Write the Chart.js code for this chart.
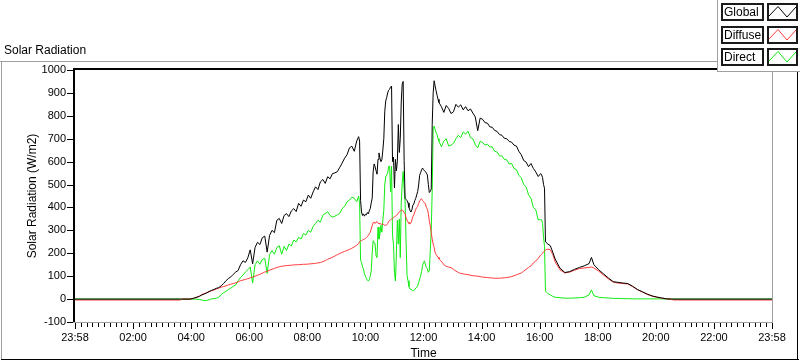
<!DOCTYPE html>
<html>
<head>
<meta charset="utf-8">
<script src="https://cdn.jsdelivr.net/npm/chart.js@4"></script>
<style>
  html, body { margin: 0; padding: 0; background: #fff; }
  #wrap { position: relative; width: 800px; height: 361px; }
</style>
</head>
<body>
<div id="wrap"><canvas id="solarChart"></canvas></div>
<script>
// sample times (clock), first entry is 23:58 of the previous day
const times = [
  '23:58', '03:36', '03:38', '03:56',
  '04:00', '04:05', '04:10', '04:15', '04:20', '04:25', '04:30', '04:35', '04:40', '04:45', '04:50', '04:55',
  '05:00', '05:05', '05:10', '05:15', '05:20', '05:25', '05:30', '05:35', '05:40', '05:45', '05:50', '05:55',
  '06:00', '06:05', '06:10', '06:15', '06:20', '06:25', '06:30', '06:35', '06:40', '06:45', '06:50', '06:55',
  '07:00', '07:05', '07:10', '07:15', '07:20', '07:25', '07:30', '07:35', '07:40', '07:45', '07:50', '07:55',
  '08:00', '08:05', '08:10', '08:15', '08:20', '08:25', '08:30', '08:35', '08:40', '08:45', '08:50', '08:55',
  '09:00', '09:05', '09:10', '09:15', '09:20', '09:25', '09:30', '09:35', '09:40', '09:44',
  '09:46', '09:48', '09:50', '09:52', '09:54', '09:56', '09:58',
  '10:00', '10:02', '10:04', '10:06', '10:08', '10:10', '10:12', '10:14', '10:16', '10:18',
  '10:20', '10:22', '10:24', '10:26', '10:28', '10:30', '10:32', '10:34', '10:36', '10:38',
  '10:40', '10:42', '10:44', '10:46', '10:48', '10:50', '10:52', '10:54', '10:56', '10:58',
  '11:00', '11:02', '11:04', '11:06', '11:08', '11:10', '11:12', '11:14', '11:16', '11:18',
  '11:20', '11:22', '11:24', '11:26', '11:28', '11:30', '11:32', '11:34', '11:36', '11:38',
  '11:40', '11:42', '11:44', '11:46', '11:48', '11:50', '11:52', '11:54', '11:56', '11:58',
  '12:00', '12:02', '12:04', '12:06', '12:08', '12:10', '12:12', '12:14', '12:16', '12:18',
  '12:20', '12:22', '12:24', '12:26', '12:28', '12:30',
  '12:35', '12:40', '12:45', '12:50', '12:55',
  '13:00', '13:05', '13:10', '13:15', '13:20', '13:25', '13:30', '13:35', '13:40', '13:45', '13:50', '13:55',
  '14:00', '14:05', '14:10', '14:15', '14:20', '14:25', '14:30', '14:35', '14:40', '14:45', '14:50', '14:55',
  '15:00', '15:05', '15:10', '15:15', '15:20', '15:25', '15:30', '15:35', '15:40', '15:45', '15:50', '15:55',
  '16:00', '16:02', '16:04', '16:06', '16:08', '16:10', '16:15', '16:20', '16:25', '16:30', '16:40', '16:50',
  '17:00', '17:10', '17:20', '17:30', '17:40', '17:45', '17:50',
  '18:00', '18:10', '18:20', '18:30', '18:40', '18:50',
  '19:00', '19:10', '19:20', '19:30', '19:40', '19:50',
  '20:00', '20:10', '20:20', '20:30', '20:34', '23:58'
];

// W/m2
const globalRad = [
  0, 0, 0, 0,
  2, 5, 8, 12, 18, 22, 27, 33, 38, 42, 47, 50,
  58, 68, 80, 90, 97, 108, 118, 125, 150, 167, 160, 180,
  215, 154, 225, 248, 238, 268, 275, 205, 278, 300, 290, 344,
  352, 330, 365, 373, 360, 385, 395, 382, 418, 405, 432, 425,
  454, 440, 468, 490, 478, 512, 522, 505, 534, 525, 548, 551,
  556, 575, 594, 615, 630, 660, 667, 645, 690, 709,
  690, 430, 380, 365, 372, 362, 370,
  368, 378, 372, 385, 395, 420, 440, 556, 590, 578,
  560, 545, 610, 638, 615, 600, 608, 650, 700, 820,
  865, 880, 900, 912, 916, 925, 930, 600, 620, 485,
  610, 560, 602, 762, 640, 700, 860, 938, 950, 605,
  440, 435, 430, 420, 400, 388, 380, 390, 410, 415,
  430, 440, 455, 470, 498, 540, 552, 564, 572, 565,
  560, 557, 550, 542, 500, 465, 470, 480, 762, 900,
  953, 930, 909, 890, 872, 858,
  840, 815, 845, 832, 810,
  818, 850, 838, 848, 826, 840, 822, 830, 812, 795, 735, 790,
  785, 770, 768, 752, 750, 736, 732, 718, 715, 702, 700, 688,
  685, 672, 668, 645, 630, 605, 598, 578, 592, 570, 555, 535,
  548, 542, 530, 500, 484, 250, 240, 233, 205, 175, 135, 116,
  120, 130, 138, 145, 155, 182, 150,
  128, 110, 92, 76, 73, 70,
  68, 56, 42, 32, 22, 14,
  9, 5, 1, 0, 0, 0
];

const diffuseRad = [
  -4, -4, 0, 0,
  2, 5, 9, 13, 20, 24, 28, 32, 36, 40, 44, 48,
  52, 55, 58, 62, 65, 68, 71, 75, 80, 83, 86, 89,
  93, 96, 100, 104, 108, 113, 118, 122, 126, 130, 134, 138,
  141, 143, 145, 146, 147, 148, 149, 150, 150, 151, 152, 152,
  153, 154, 155, 156, 158, 160, 163, 168, 174, 178, 183, 188,
  194, 199, 204, 208, 212, 217, 222, 228, 235, 242,
  250, 255, 255, 258, 260, 262, 265,
  268, 272, 278, 285, 292, 305, 320, 334, 336, 330,
  336, 338, 332, 328, 330, 328, 326, 328, 325, 322,
  322, 324, 330, 338, 344, 346, 350, 351, 355, 360,
  362, 366, 368, 375, 380, 385, 388, 388, 385, 378,
  372, 355, 344, 336, 330, 328, 332, 345, 360, 368,
  380, 392, 400, 405, 418, 428, 435, 438, 430, 426,
  420, 415, 400, 392, 374, 340, 320, 290, 262, 240,
  225, 204, 195, 188, 183, 175,
  165, 150, 143, 140, 137,
  130, 122, 116, 112, 110, 108, 107, 104, 102, 101, 100, 98,
  96, 95, 94, 93, 92, 91, 91, 91, 92, 93, 94, 96,
  98, 102, 106, 110, 114, 122, 130, 138, 145, 158, 166, 178,
  192, 196, 200, 206, 210, 214, 218, 215, 195, 162, 128, 114,
  118, 126, 133, 136, 138, 140, 136,
  122, 105, 88, 74, 70, 68,
  66, 55, 41, 31, 21, 13,
  8, 4, 1, 0, -4, -4
];

const directRad = [
  0, 0, 0, 0,
  0, 0, -1, -2, -4, -7, -6, -3, 1, 2, 4, 8,
  20, 28, 34, 42, 48, 56, 62, 80, 94, 105, 118, 128,
  140, 70, 150, 167, 152, 174, 178, 112, 195, 211, 196, 225,
  233, 196, 230, 212, 240, 232, 258, 250, 270, 262, 286, 280,
  300, 292, 318, 330, 344, 336, 366, 374, 381, 365, 358, 362,
  368, 374, 395, 405, 425, 432, 445, 440, 425, 450,
  420, 170, 160, 140, 132, 110, 100,
  90, 82, 79, 85, 100, 123, 200, 255, 248, 240,
  189, 181, 314, 262, 284, 322, 292, 344, 388, 498,
  534, 542, 550, 579, 580, 469, 580, 277, 240, 116,
  79, 200, 344, 240, 350, 181, 420, 505, 557, 480,
  424, 250, 103, 80, 55, 44, 42, 40, 38, 37,
  42, 48, 51, 58, 72, 88, 100, 120, 145, 160,
  167, 150, 138, 132, 117, 123, 211, 300, 475, 748,
  755, 740, 726, 718, 700, 689,
  665, 690, 700, 668, 672,
  680, 700, 715, 705, 730, 720, 733, 705, 700, 674, 660, 689,
  684, 672, 676, 664, 665, 645, 642, 625, 625, 610, 608, 590,
  592, 570, 565, 540, 530, 500, 490, 455, 440, 400, 390, 345,
  348, 346, 330, 270, 230, 35, 24, 18, 12, 8, 6, 4,
  4, 5, 6, 8, 18, 40, 15,
  8, 6, 5, 3, 3, 2,
  2, 1, 1, 1, 1, 1,
  1, 1, 0, 0, 0, 0
];

const xTickLabels = ['23:58', '02:00', '04:00', '06:00', '08:00', '10:00', '12:00',
  '14:00', '16:00', '18:00', '20:00', '22:00', '23:58'];

const FONT = '"Liberation Sans", Arial, sans-serif';
const xStart = -2;         // 23:58 of the previous day, in minutes from midnight
const xEnd = 1438;

function toMinutes(t, i) {
  const [h, m] = t.split(':').map(Number);
  let v = h * 60 + m;
  if (i === 0 && v > 720) v -= 1440;
  return v;
}

function series(values) {
  return values.map((v, i) => ({ x: toMinutes(times[i], i), y: v }));
}

// panel frame, caption, axis borders, tick marks and legend (LabVIEW style)
const panel = {
  id: 'panel',
  beforeDraw(chart) {
    const ctx = chart.ctx;
    ctx.save();
    ctx.fillStyle = '#ffffff';
    ctx.fillRect(0, 0, chart.width, chart.height);
    ctx.fillStyle = '#a0a0a0';
    ctx.fillRect(0, 61, 800, 1);
    ctx.fillRect(1, 61, 1, 299);
    ctx.fillStyle = '#000000';
    ctx.fillRect(1, 359, 798, 1);
    ctx.fillRect(797, 61, 1, 299);
    ctx.font = '12px ' + FONT;
    ctx.textBaseline = 'alphabetic';
    ctx.fillText('Solar Radiation', 4, 54);
    ctx.restore();
  },
  afterDraw(chart) {
    const { ctx, chartArea: a, scales: { x, y } } = chart;
    ctx.save();
    // plot frame
    ctx.fillStyle = '#a0a0a0';
    ctx.fillRect(a.right, a.top - 2, 1, a.bottom - a.top + 3);
    ctx.fillRect(a.left - 2, a.bottom, a.right - a.left + 3, 1);
    ctx.fillStyle = '#000000';
    ctx.fillRect(a.left - 2, a.top - 2, 2, a.bottom - a.top + 2);
    ctx.fillRect(a.left - 2, a.top - 2, a.right - a.left + 2, 2);

    // y tick marks
    for (let v = -100; v <= 1000; v += 100) {
      const py = Math.round(y.getPixelForValue(v));
      ctx.fillRect(a.left - 8, py, 6, 1);
    }
    // x tick marks: major every 2 h, minor every 12 min
    for (let k = 0; k <= 120; k++) {
      const px = Math.round(x.getPixelForValue(xStart + k * 12));
      const major = k % 10 === 0;
      ctx.fillRect(px, a.bottom + 1, 1, major ? 6 : 4);
    }

    // legend
    ctx.fillStyle = '#ffffff';
    ctx.fillRect(717, 0, 83, 72);
    ctx.fillStyle = '#a0a0a0';
    ctx.fillRect(717, 0, 1, 72);
    ctx.fillRect(717, 71, 83, 1);
    ctx.font = '12px ' + FONT;
    ctx.textBaseline = 'middle';
    chart.data.datasets.forEach((ds, i) => {
      const top = 3 + Math.round(i * 22.5);
      ctx.lineWidth = 2;
      ctx.strokeStyle = '#1a1a1a';
      ctx.strokeRect(722, top + 1, 41, 16);
      ctx.strokeRect(768, top + 1, 29, 16);
      ctx.fillStyle = '#000000';
      ctx.fillText(ds.label, 724, top + 10);
      ctx.lineWidth = 1;
      ctx.strokeStyle = ds.borderColor;
      ctx.beginPath();
      ctx.moveTo(769, top + 13);
      ctx.lineTo(778, top + 3.5);
      ctx.lineTo(787, top + 14);
      ctx.lineTo(796, top + 4);
      ctx.stroke();
    });
    ctx.restore();
  }
};

const lineStyle = { borderWidth: 1, pointRadius: 0, tension: 0, fill: false };

new Chart(document.getElementById('solarChart'), {
  type: 'line',
  data: {
    datasets: [
      { label: 'Global', data: series(globalRad), borderColor: '#000000', ...lineStyle },
      { label: 'Diffuse', data: series(diffuseRad), borderColor: '#ff3c3c', ...lineStyle },
      { label: 'Direct', data: series(directRad), borderColor: '#10ec10', ...lineStyle }
    ]
  },
  options: {
    responsive: true,
    maintainAspectRatio: false,
    animation: false,
    layout: { padding: { left: 0, right: 28, top: 70, bottom: 0 } },
    plugins: {
      legend: { display: false },
      tooltip: { enabled: false }
    },
    scales: {
      x: {
        type: 'linear',
        min: xStart,
        max: xEnd,
        grid: { display: false, drawTicks: false },
        border: { display: false },
        afterBuildTicks: (scale) => {
          scale.ticks = xTickLabels.map((_, i) => ({ value: xStart + i * 120 }));
        },
        afterFit: (scale) => { scale.height = 39; },
        ticks: {
          autoSkip: false,
          maxRotation: 0,
          padding: 9,
          color: '#000000',
          font: { family: FONT, size: 11 },
          callback: (value, index) => xTickLabels[index]
        },
        title: {
          display: true,
          text: 'Time',
          color: '#000000',
          padding: { top: 0, bottom: 0 },
          font: { family: FONT, size: 12 }
        }
      },
      y: {
        min: -100,
        max: 1000,
        grid: { display: false, drawTicks: false },
        border: { display: false },
        afterFit: (scale) => { scale.width = 75; },
        ticks: {
          stepSize: 100,
          padding: 9,
          color: '#000000',
          font: { family: FONT, size: 11 },
          callback: (value) => String(value)
        },
        title: {
          display: true,
          text: 'Solar Radiation (W/m2)',
          color: '#000000',
          padding: { top: 25, bottom: 0 },
          font: { family: FONT, size: 12 }
        }
      }
    }
  },
  plugins: [panel]
});
</script>
</body>
</html>
